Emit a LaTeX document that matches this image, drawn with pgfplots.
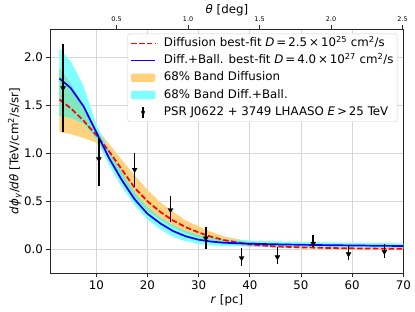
\documentclass[border=0pt]{standalone}
\usepackage{fontspec}
\setmainfont{DejaVu Sans}
\usepackage{pgfplots}
\pgfplotsset{compat=1.18}
\usepackage{pgfplotstable}

% band colours as they appear with alpha 0.5 on white, and their overlap
\definecolor{bandorange}{RGB}{255,210,127}
\definecolor{bandcyan}{RGB}{127,255,255}
\definecolor{bandmix}{RGB}{127,232,191}
\definecolor{mplblue}{RGB}{0,0,255}
\definecolor{mplred}{RGB}{255,0,0}
\definecolor{gridgray}{RGB}{214,214,214}
\definecolor{legframe}{RGB}{208,208,208}
\newcommand{\ms}{\hspace{0.17em}}

\pgfplotstableread{
r    red    blue
2.8  1.560  1.780
5    1.470  1.680
7.5  1.340  1.490
10   1.190  1.220
12.5 1.020  0.950
15   0.830  0.720
17.5 0.640  0.520
20   0.500  0.370
22.5 0.390  0.270
25   0.300  0.190
27.5 0.230  0.135
30   0.175  0.100
32.5 0.130  0.080
35   0.095  0.068
40   0.050  0.058
45   0.030  0.052
50   0.020  0.047
55   0.014  0.043
60   0.010  0.040
65   0.007  0.037
70   0.005  0.034
}\curves

% 68% band, diffusion: upper edge then lower edge (reversed)
\pgfplotstableread{
r    y
2.8  1.890
5    1.730
7.5  1.500
10   1.260
12.5 1.100
15   0.930
17.5 0.770
20   0.620
22.5 0.490
25   0.390
27.5 0.300
30   0.240
32.5 0.180
35   0.135
40   0.080
45   0.050
50   0.033
55   0.023
60   0.016
65   0.012
70   0.009
70   0.002
65   0.003
60   0.004
55   0.006
50   0.010
45   0.017
40   0.030
35   0.060
32.5 0.090
30   0.120
27.5 0.170
25   0.230
22.5 0.310
20   0.400
17.5 0.540
15   0.730
12.5 0.930
10   1.110
7.5  1.160
5    1.200
2.8  1.220
}\bandD

% 68% band, diffusion + ballistic
\pgfplotstableread{
r    y
2.8  2.090
5    1.960
7.5  1.700
10   1.300
12.5 1.030
15   0.800
17.5 0.590
20   0.440
22.5 0.330
25   0.250
27.5 0.190
30   0.150
32.5 0.120
35   0.105
40   0.090
45   0.083
50   0.077
55   0.072
60   0.068
65   0.065
70   0.062
70   0.013
65   0.015
60   0.018
55   0.021
50   0.024
45   0.027
40   0.030
35   0.035
32.5 0.040
30   0.055
27.5 0.085
25   0.130
22.5 0.210
20   0.310
17.5 0.460
15   0.650
12.5 0.880
10   1.150
7.5  1.310
5    1.370
2.8  1.390
}\bandB

% region where the two bands overlap
\pgfplotstableread{
r    y
2.8  1.890
5    1.730
7.5  1.500
10   1.260
12.5 1.030
15   0.800
17.5 0.590
20   0.440
22.5 0.330
25   0.250
27.5 0.190
30   0.150
32.5 0.120
35   0.105
40   0.080
45   0.050
50   0.033
55   0.023
57.5 0.0195
55   0.021
50   0.024
45   0.027
40   0.030
35   0.060
32.5 0.090
30   0.120
27.5 0.170
25   0.230
22.5 0.310
20   0.400
17.5 0.540
15   0.730
12.5 0.930
10   1.150
7.5  1.310
5    1.370
2.8  1.390
}\bandX

\pgfplotstableread{
r     y       ep     em
3.5   1.680   0.460  0.460
10.5  0.940   0.220  0.280
17.5  0.830   0.170  0.180
24.5  0.410   0.140  0.130
31.4  0.115   0.120  0.115
38.4  -0.090  0.100  0.080
45.4  -0.080  0.100  0.070
52.4  0.060   0.090  0.035
59.3  -0.050  0.080  0.060
66.3  -0.025  0.080  0.070
}\datapts

\begin{document}
\begin{tikzpicture}
\begin{axis}[
  at={(0,0)}, anchor=south west,
  scale only axis, width=352.8bp, height=244bp,
  xmin=1.05, xmax=70, ymin=-0.247, ymax=2.295,
  xtick={10,20,...,70}, ytick={0,0.5,...,2.0},
  xtick pos=bottom, ytick pos=left,
  /pgf/number format/assume math mode=true,
  yticklabel style={/pgf/number format/.cd, fixed, fixed zerofill, precision=1},
  ticklabel style={font=\fontsize{11.8bp}{13bp}\selectfont},
  grid=major, grid style={color=gridgray, line width=0.9bp},
  axis line style={line width=0.9bp, black!85},
  tick align=outside, major tick length=4bp,
  tick style={black!85, line width=0.9bp},
  xlabel={\textit{r} [pc]},
  ylabel={\textit{dϕ}\textsubscript{\textit{γ}}/\textit{dθ} [TeV/cm\textsuperscript{2}/s/sr]},
  label style={font=\fontsize{11.8bp}{13bp}\selectfont},
  xlabel style={at={(axis description cs:0.5,-0.1107)}, anchor=center},
  ylabel style={at={(axis description cs:-0.1006,0.5)}, anchor=center},
  legend cell align=left,
  legend style={at={(0.983,0.9807)}, anchor=north east,
    font=\fontsize{11.8bp}{13bp}\selectfont,
    draw=legframe, fill=white,
    rounded corners=2bp, inner xsep=2.5bp, inner ysep=2.5bp,
    row sep=3.2bp,
    nodes={inner sep=1bp, text height=9bp, text depth=3bp},
    /tikz/every odd column/.append style={column sep=7bp}},
]
% bands
\addplot[fill=bandorange, draw=none, forget plot] table[x=r, y=y] {\bandD};
\addplot[fill=bandcyan, draw=none, forget plot] table[x=r, y=y] {\bandB};
\addplot[fill=bandmix, draw=none, forget plot] table[x=r, y=y] {\bandX};
% lines
\addplot[mplred, line width=1.7bp, dash pattern=on 5.5bp off 2.4bp, forget plot] table[x=r, y=red] {\curves};
\addplot[mplblue, line width=1.7bp, forget plot] table[x=r, y=blue] {\curves};
% data
\addplot[black, only marks, mark=triangle*, mark size=2.8bp, forget plot,
  mark options={rotate=180, fill=black, draw=black},
  error bars/.cd, y dir=both, y explicit,
  error bar style={line width=1.5bp, black}, error mark=none]
  table[x=r, y=y, y error plus=ep, y error minus=em] {\datapts};

% legend entries
\addlegendimage{mplred, legend image code/.code={\draw[mplred, line width=1.7bp, dash pattern=on 5.5bp off 2.4bp] (0bp,0bp) -- (24bp,0bp);}}
\addlegendentry{Diffusion best-fit \textit{D}\ms=\ms2.5\ms×\ms10\textsuperscript{25} cm\textsuperscript{2}/s}
\addlegendimage{mplblue, legend image code/.code={\draw[mplblue, line width=1.7bp] (0bp,0bp) -- (24bp,0bp);}}
\addlegendentry{Diff.+Ball. best-fit \textit{D}\ms=\ms4.0\ms×\ms10\textsuperscript{27} cm\textsuperscript{2}/s}
\addlegendimage{legend image code/.code={\fill[bandorange] (0bp,-4bp) rectangle (24bp,4bp);}}
\addlegendentry{68\% Band Diffusion}
\addlegendimage{legend image code/.code={\fill[bandcyan] (0bp,-4bp) rectangle (24bp,4bp);}}
\addlegendentry{68\% Band Diff.+Ball.}
\addlegendimage{legend image code/.code={\draw[black, line width=1.5bp] (12bp,-6bp) -- (12bp,5.5bp);
  \draw[black, fill=black] (12bp,-2.8bp) -- (9.6bp,1.4bp) -- (14.4bp,1.4bp) -- cycle;}}
\addlegendentry{PSR J0622 + 3749 LHAASO \textit{E}\ms>\ms25 TeV}
\end{axis}

\begin{axis}[
  at={(0,0)}, anchor=south west,
  scale only axis, width=352.8bp, height=244bp,
  xmin=1.05, xmax=70, ymin=-0.247, ymax=2.295,
  axis x line*=top, axis y line=none,
  axis line style={line width=0.9bp, black!85},
  tick align=outside, major tick length=4bp,
  tick style={black!85, line width=0.9bp},
  xtick={13.96,27.93,41.90,55.87,69.85},
  xticklabels={0.5,1.0,1.5,2.0,2.5},
  xticklabel style={font=\fontsize{6.4bp}{7.5bp}\selectfont},
  xlabel={\textit{θ} [deg]},
  xlabel style={font=\fontsize{11.8bp}{13bp}\selectfont, at={(axis description cs:0.5,1.078)}, anchor=center},
]
\addplot[draw=none] coordinates {(1.05,0) (70,0)};
\node[anchor=base west, font=\fontsize{6.4bp}{7.5bp}\selectfont, inner sep=0pt] at (rel axis cs:0,1) [yshift=3bp, xshift=0.5bp] {1e−9};
\end{axis}
\pgfresetboundingbox
\path[use as bounding box] (-50.5bp,-39bp) rectangle (364.5bp,273bp);
\end{tikzpicture}
\end{document}
